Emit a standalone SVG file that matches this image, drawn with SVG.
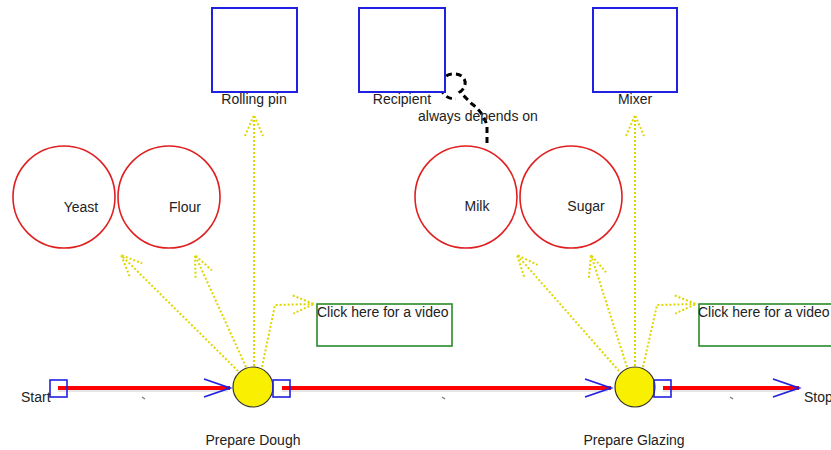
<svg xmlns="http://www.w3.org/2000/svg" width="831" height="450" viewBox="0 0 831 450">
  <style>
    text { font-family: "Liberation Sans", Arial, sans-serif; font-size: 14px; fill: #222; }
    .mid { text-anchor: middle; }
    .tool { fill: #fff; stroke: #2020e0; stroke-width: 2; }
    .ingr { fill: #fff; stroke: #e02020; stroke-width: 1.6; }
    .step { fill: #f8f000; stroke: #333; stroke-width: 1.2; }
    .port { fill: none; stroke: #2020e0; stroke-width: 1.6; }
    .note { fill: #fff; stroke: #2a8a2a; stroke-width: 1.6; }
    .flow { fill: none; stroke: #ff0000; stroke-width: 4; marker-end: url(#flowHead); }
    .shadow { fill: none; stroke: #ccc; stroke-width: 1; }
    .use { fill: none; stroke: #e0d600; stroke-width: 2; stroke-dasharray: 2 2; marker-end: url(#useHead); }
    .dep { fill: none; stroke: #000; stroke-width: 3; stroke-dasharray: 6 4; }
    .tick { stroke: #777; stroke-width: 1.2; }
  </style>
  <defs>
    <marker id="flowHead" markerUnits="userSpaceOnUse" markerWidth="30" markerHeight="22" refX="27" refY="10" orient="auto">
      <path d="M1,1 L27,10 L1,19" fill="none" stroke="#2020e0" stroke-width="1.8"/>
    </marker>
    <marker id="useHead" markerUnits="userSpaceOnUse" markerWidth="26" markerHeight="24" refX="23" refY="12" orient="auto">
      <path d="M2,3 L23,12 L2,21" fill="none" stroke="#e0d600" stroke-width="2" stroke-dasharray="2 2"/>
    </marker>
  </defs>

  <!-- connectors -->
  <g id="connectors">
    <!-- process flow -->
    <line class="shadow" x1="58" y1="391" x2="228" y2="391"/>
    <line class="shadow" x1="282" y1="391" x2="608" y2="391"/>
    <line class="shadow" x1="663" y1="391" x2="796" y2="391"/>
    <path class="flow" d="M58,388 L230,388"/>
    <path class="flow" d="M282,388 L611,388"/>
    <path class="flow" d="M663,388 L799,388"/>
    <line class="tick" x1="142" y1="397" x2="145" y2="399"/>
    <line class="tick" x1="442" y1="397" x2="445" y2="399"/>
    <line class="tick" x1="730" y1="397" x2="733" y2="399"/>

    <!-- resources used by Prepare Dough -->
    <path class="use" d="M238,371 L121,255"/>
    <path class="use" d="M246,367 L195,255"/>
    <path class="use" d="M254,366 L254,115"/>
    <path class="use" d="M262,367 L275,305 L314,304"/>

    <!-- resources used by Prepare Glazing -->
    <path class="use" d="M619,371 L517,255"/>
    <path class="use" d="M627,367 L591,255"/>
    <path class="use" d="M635,366 L635,115"/>
    <path class="use" d="M643,367 L657,305 L696,304"/>

    <!-- dependency Milk -> Recipient -->
    <path class="dep" d="M487,143 L487,126 Q484,113 472,104 L460,92 C468,86 467,75 455,74 C444,73 438,83 442,91 C445,97 450,99 456,99"/>
  </g>

  <!-- tools -->
  <g id="rolling-pin">
    <rect class="tool" x="212" y="8" width="85" height="84"/>
    <text class="mid" x="254" y="104">Rolling pin</text>
  </g>
  <g id="recipient">
    <rect class="tool" x="359" y="8" width="86" height="84"/>
    <text class="mid" x="402" y="104">Recipient</text>
  </g>
  <g id="mixer">
    <rect class="tool" x="593" y="8" width="84" height="84"/>
    <text class="mid" x="635" y="104">Mixer</text>
  </g>
  <g id="dependency-label">
    <text x="418" y="121">always depends on</text>
  </g>

  <!-- ingredients -->
  <g id="yeast">
    <circle class="ingr" cx="64" cy="197" r="51"/>
    <text class="mid" x="81" y="212">Yeast</text>
  </g>
  <g id="flour">
    <circle class="ingr" cx="169" cy="197" r="51"/>
    <text class="mid" x="185" y="212">Flour</text>
  </g>
  <g id="milk">
    <circle class="ingr" cx="466" cy="197" r="51"/>
    <text class="mid" x="477" y="211">Milk</text>
  </g>
  <g id="sugar">
    <circle class="ingr" cx="571" cy="197" r="51"/>
    <text class="mid" x="586" y="211">Sugar</text>
  </g>

  <!-- video notes -->
  <g id="video-dough">
    <rect class="note" x="317" y="304" width="135" height="42"/>
    <text x="317" y="317">Click here for a video</text>
  </g>
  <g id="video-glazing">
    <rect class="note" x="699" y="304" width="140" height="42"/>
    <text x="698" y="317">Click here for a video</text>
  </g>

  <!-- process steps -->
  <g id="start">
    <rect class="port" x="50" y="380" width="17" height="17"/>
    <text x="21" y="402">Start</text>
  </g>
  <g id="prepare-dough">
    <circle class="step" cx="253" cy="387" r="20"/>
    <rect class="port" x="273" y="380" width="17" height="17"/>
    <text class="mid" x="253" y="445">Prepare Dough</text>
  </g>
  <g id="prepare-glazing">
    <circle class="step" cx="635" cy="387" r="20"/>
    <rect class="port" x="654" y="380" width="17" height="17"/>
    <text class="mid" x="634" y="445">Prepare Glazing</text>
  </g>
  <g id="stop">
    <text x="804" y="402">Stop</text>
  </g>
</svg>
